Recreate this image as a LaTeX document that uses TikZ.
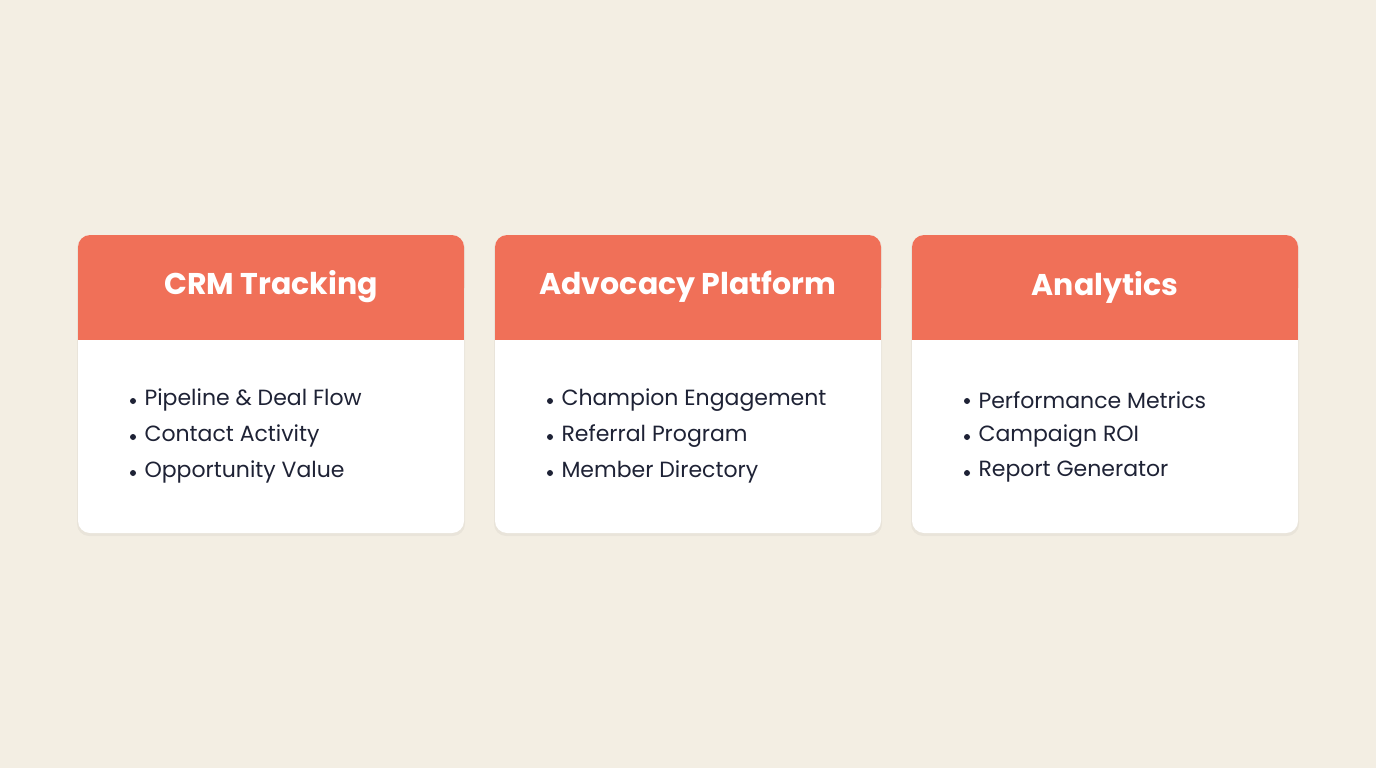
\documentclass[tikz,border=0pt]{standalone}
\usepackage{fontspec}
\setmainfont{Poppins}
\definecolor{bg}{HTML}{F3EEE3}
\definecolor{hdr}{HTML}{F07058}
\definecolor{ink}{HTML}{1E2235}
\begin{document}
\begin{tikzpicture}[x=1pt,y=-1pt,
  card/.style={fill=white,rounded corners=12pt},
  head/.style={fill=hdr},
  title/.style={text=white,font=\fontsize{30}{34}\selectfont\bfseries,anchor=center},
  item/.style={text=ink,font=\fontsize{22}{26}\selectfont,anchor=west},
  dot/.style={circle,fill=ink,inner sep=0pt,minimum size=6pt}]
\fill[bg] (0,0) rectangle (1376,768);
\useasboundingbox (0,0) rectangle (1376,768);
\foreach \x/\t/\a/\b/\c [count=\i] in {78/CRM Tracking/Pipeline \& Deal Flow/Contact Activity/Opportunity Value,
  495/Advocacy Platform/Champion Engagement/Referral Program/Member Directory,
  912/Analytics/Performance Metrics/Campaign ROI/Report Generator}{
  \fill[black,opacity=0.04,rounded corners=12pt] (\x-1,236) rectangle (\x+387,536);
  \fill[card] (\x,235) rectangle (\x+386,533);
  \fill[head,rounded corners=12pt] (\x,235) rectangle (\x+386,300);
  \fill[head] (\x,280) rectangle (\x+386,340);
  \node[title] (t\i) at (\x+193,287) {\t};
  \node[dot] (d\i a) at (\x+55,401) {};
  \node[dot] (d\i b) at (\x+55,437) {};
  \node[dot] (d\i c) at (\x+55,473) {};
  \node[item] (a\i) at (\x+63,400) {\a};
  \node[item] (b\i) at (\x+63,436) {\b};
  \node[item] (c\i) at (\x+63,472) {\c};
}
\end{tikzpicture}
\end{document}
